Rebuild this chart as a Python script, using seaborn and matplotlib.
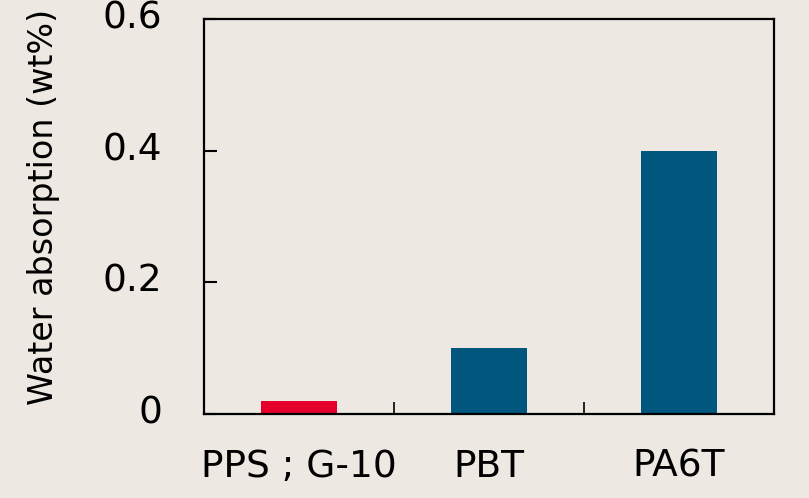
import matplotlib
matplotlib.use("Agg")
import matplotlib.pyplot as plt
import matplotlib.transforms as mtrans
import seaborn as sns
import pandas as pd
from matplotlib.ticker import FixedLocator

categories = ["PPS ; G-10", "PBT", "PA6T"]
values = [0.02, 0.1, 0.4]
bar_colors = ["#e4002b", "#00567d", "#00567d"]
y_ticks = [0, 0.2, 0.4, 0.6]
y_tick_labels = ["0", "0.2", "0.4", "0.6"]
y_label = "Water absorption (wt%)"

bg = "#ede8e2"
sns.set_theme(style="ticks")
plt.rcParams["font.family"] = ["DejaVu Sans"]

df = pd.DataFrame({"cat": categories, "val": values})

fig = plt.figure(figsize=(8.09, 4.98), dpi=100, facecolor=bg)
ax = fig.add_axes([204/809, 84/498, 570/809, 395/498])
ax.set_facecolor(bg)

sns.barplot(data=df, x="cat", y="val", hue="cat", palette=bar_colors,
            legend=False, width=0.4, saturation=1, linewidth=0, ax=ax)

ax.set_xlim(-0.5, 2.5)
ax.set_ylim(0, 0.6)
ax.set_yticks(y_ticks)
ax.set_yticklabels(y_tick_labels)
ax.set_xlabel("")
ax.set_ylabel(y_label, fontsize=24, color="black")
ax.yaxis.set_label_coords(-0.253, 0.524)

for s in ax.spines.values():
    s.set_visible(True)
    s.set_linewidth(1.6)
    s.set_color("black")

ax.xaxis.set_minor_locator(FixedLocator([0.5, 1.5]))
ax.tick_params(axis="x", which="major", length=0, pad=25, labelsize=27, colors="black")
ax.tick_params(axis="x", which="minor", direction="in", length=9, width=1.2, color="black", top=False)
ax.tick_params(axis="y", which="major", direction="in", length=9, width=1.5,
               pad=30, labelsize=27, colors="black")

offset = mtrans.ScaledTranslation(0, 4.5 / 100, fig.dpi_scale_trans)
for lbl in ax.get_yticklabels():
    lbl.set_transform(lbl.get_transform() + offset)

fig.savefig("out.png", dpi=100, facecolor=bg)
